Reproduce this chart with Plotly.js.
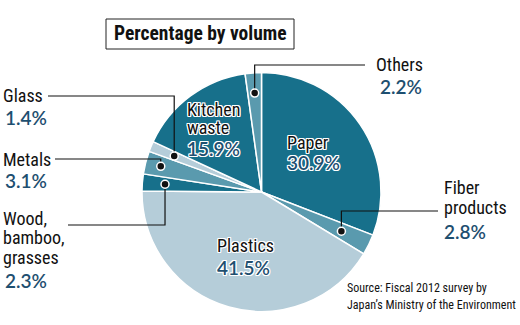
<!DOCTYPE html>
<html><head><meta charset="utf-8">
<script src="https://cdn.plot.ly/plotly-3.0.1.min.js"></script>
<style>html,body{margin:0;padding:0;background:#fff}#c{width:520px;height:325px}</style>
</head><body><div id="c"></div>
<script>
// ---- data ----
const categories = ['Paper','Fiber products','Plastics','Wood, bamboo, grasses','Metals','Glass','Kitchen waste','Others'];
const shares = [30.9, 2.8, 41.5, 2.3, 3.1, 1.4, 15.9, 2.2];
const labelLines = [['Paper'],['Fiber','products'],['Plastics'],['Wood,','bamboo,','grasses'],['Metals'],['Glass'],['Kitchen','waste'],['Others']];
const chartTitle = 'Percentage by volume';
const sourceLines = ['Source: Fiscal 2012 survey by', 'Japan\u2019s Ministry of the Environment'];

// ---- style ----
const DARK = '#17708b', MID = '#5a9aae', LIGHT = '#b5cdd9';
const sliceColors = [DARK, MID, LIGHT, DARK, MID, LIGHT, DARK, MID];
const W = 520, H = 325;
const CX = 261.5, CY = 192, R = 119.5;
const NAME_FONT = '"Roboto Condensed", "Liberation Sans", Arial, sans-serif';
const PCT_FONT = 'Lato, "Open Sans", sans-serif';
const NAVY = '#1e4f70';
const HALO = '-1px -1px 0 #fff, 1px -1px 0 #fff, -1px 1px 0 #fff, 1px 1px 0 #fff, 0 1px 0 #fff, 0 -1px 0 #fff, 1px 0 0 #fff, -1px 0 0 #fff';
const px = x => x / W, py = y => 1 - y / H;

const place = {
  'Paper':                 {nx:285, ny:142, step:20, qx:285, qy:162, inside:true},
  'Fiber products':        {nx:442, ny:187, step:20, qx:442, qy:232, dot:0.745, ey:211, ex:438},
  'Plastics':              {nx:215, ny:245, step:20, qx:215, qy:267, inside:true},
  'Wood, bamboo, grasses': {nx:1,   ny:218, step:19.5, qx:3, qy:280, dot:0.81, ey:225, ex:68},
  'Metals':                {nx:1,   ny:159, step:20, qx:3, qy:180, dot:0.87, ey:159, ex:55},
  'Glass':                 {nx:1,   ny:95,  step:20, qx:3, qy:117, dot:0.79, ey:96, ex:48},
  'Kitchen waste':         {nx:185, ny:109.5, step:18, qx:185, qy:148, inside:true},
  'Others':                {nx:374, ny:65,  step:20, qx:378, qy:86, dot:0.83, ey:65, ex:365}
};

const total = shares.reduce((a,b)=>a+b,0);
const annotations = [];
const shapes = [];

shapes.push({type:'rect', xref:'paper', yref:'paper', x0:px(106), x1:px(294), y0:py(49), y1:py(19),
  line:{color:'#222', width:1}, fillcolor:'rgba(0,0,0,0)'});
annotations.push({text:'<b>'+chartTitle+'</b>', xref:'paper', yref:'paper', x:px(200), y:py(34),
  xanchor:'center', yanchor:'middle', showarrow:false, font:{family:NAME_FONT, size:19.5, color:'#111'}});

let cum = 0;
categories.forEach((cat, i) => {
  const p = place[cat];
  const mid = (cum + shares[i]/2) / total * 2 * Math.PI;
  cum += shares[i];
  labelLines[i].forEach((ln, k) => {
    annotations.push({text: ln, xref:'paper', yref:'paper', x:px(p.nx), y:py(p.ny + k*p.step),
      xanchor:'left', yanchor:'middle', showarrow:false,
      font:{family:NAME_FONT, size:18, color:'#111', shadow: p.inside ? HALO : 'none'}});
  });
  annotations.push({text: shares[i].toFixed(1) + '%', xref:'paper', yref:'paper', x:px(p.qx), y:py(p.qy),
    xanchor:'left', yanchor:'middle', showarrow:false,
    font:{family:PCT_FONT, size:19, color:NAVY, weight:600, shadow: p.inside ? HALO : 'none'}});
  if (!p.inside) {
    const dx = CX + p.dot * R * Math.sin(mid);
    const dy = CY - p.dot * R * Math.cos(mid);
    shapes.push({type:'path', xref:'paper', yref:'paper',
      path: 'M' + px(dx) + ',' + py(dy) + ' L' + px(dx) + ',' + py(p.ey) + ' L' + px(p.ex) + ',' + py(p.ey),
      line:{color:'#111', width:1.2}});
    const rr = 4;
    shapes.push({type:'circle', xref:'paper', yref:'paper', x0:px(dx-rr), x1:px(dx+rr), y0:py(dy+rr), y1:py(dy-rr),
      fillcolor:'#111', line:{color:'#fff', width:1.5}});
  }
});

sourceLines.forEach((s, k) => {
  annotations.push({text:s, xref:'paper', yref:'paper', x:px(345), y:py(288 + k*17),
    xanchor:'left', yanchor:'middle', showarrow:false, font:{family:NAME_FONT, size:12, color:'#111'}});
});

const trace = {
  type:'pie', values: shares, labels: categories, sort:false, direction:'clockwise', rotation:0,
  marker:{colors: sliceColors, line:{color:'#fff', width:1.5}},
  textinfo:'none', hoverinfo:'none',
  domain:{x:[px(CX-R), px(CX+R)], y:[py(CY+R), py(CY-R)]}
};

Plotly.newPlot('c', [trace], {
  width:W, height:H, margin:{l:0,r:0,t:0,b:0}, showlegend:false,
  paper_bgcolor:'#fff', plot_bgcolor:'#fff', annotations, shapes
}, {staticPlot:true, displayModeBar:false});
</script></body></html>
